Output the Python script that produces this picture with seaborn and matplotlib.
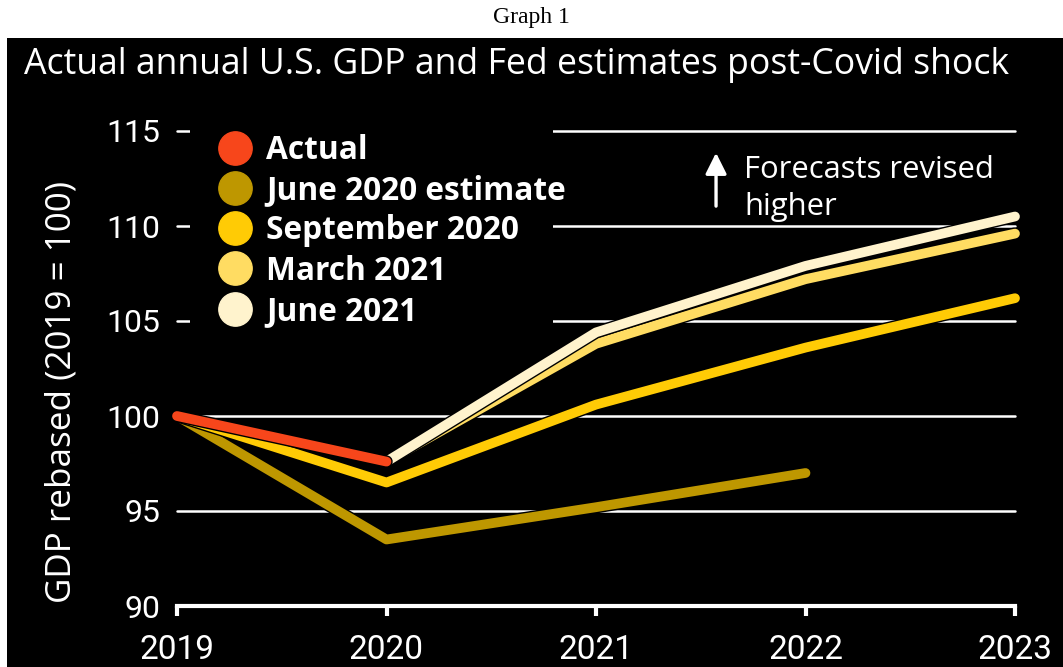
import numpy as np
import pandas as pd
import matplotlib
matplotlib.use("Agg")
import matplotlib.pyplot as plt
import matplotlib.patheffects as pe
from matplotlib.lines import Line2D
from matplotlib.patches import Rectangle
import seaborn as sns

# ---- data ----
years = [2019, 2020, 2021, 2022, 2023]
actual = [100.0, 97.6, np.nan, np.nan, np.nan]
june_2020 = [100.0, 93.5, 95.2, 97.0, np.nan]
september_2020 = [100.0, 96.5, 100.6, 103.6, 106.2]
march_2021 = [np.nan, 97.6, 103.8, 107.2, 109.6]
june_2021 = [np.nan, 97.6, 104.4, 107.9, 110.5]

series_names = ["Actual", "June 2020 estimate", "September 2020", "March 2021", "June 2021"]
series_values = [actual, june_2020, september_2020, march_2021, june_2021]
colors = ["#F7461B", "#BE9700", "#FFCB05", "#FFDC62", "#FFF3CD"]
draw_order = ["June 2020 estimate", "September 2020", "March 2021", "June 2021", "Actual"]
y_ticks = [90, 95, 100, 105, 110, 115]

rows = []
for name, vals in zip(series_names, series_values):
    for yr, v in zip(years, vals):
        if not np.isnan(v):
            rows.append({"year": yr, "value": v, "series": name})
df = pd.DataFrame(rows)
palette = dict(zip(series_names, colors))

sns.set_theme(style="dark")
plt.rcParams["font.family"] = ["Roboto", "DejaVu Sans"]
OPEN = ["Open Sans", "DejaVu Sans"]

W, H = 1063, 667
fig = plt.figure(figsize=(W / 100, H / 100), dpi=100, facecolor="white")
bg = fig.add_axes([7 / W, 0, 1 - 7 / W, (H - 38) / H], zorder=-5)
bg.set_facecolor("black")
bg.set_xticks([]); bg.set_yticks([])
for s in bg.spines.values():
    s.set_visible(False)

fig.text(0.5, 1 - 18 / H, "Graph 1", ha="center", va="center", fontsize=17,
         family=["Liberation Serif", "DejaVu Serif"], color="black")
fig.text(24 / W, 1 - 65 / H, "Actual annual U.S. GDP and Fed estimates post-Covid shock",
         ha="left", va="center", fontsize=25.7, color="white", family=OPEN)

left, right = 177 / W, 1015 / W
bottom = (H - 606) / H
top_px = 606 - 25.5 * 19
ax = fig.add_axes([left, bottom, right - left, (606 - top_px) / H], zorder=1)
ax.set_facecolor("none")

sns.lineplot(data=df, x="year", y="value", hue="series", hue_order=draw_order,
             palette=palette, linewidth=7, estimator=None, sort=False, legend=False, ax=ax)
for line in ax.lines:
    line.set_solid_capstyle("round")
    line.set_solid_joinstyle("round")
    line.set_clip_on(False)
    line.set_zorder(5)
    line.set_path_effects([pe.Stroke(linewidth=9, foreground="black"), pe.Normal()])

ax.set_xlim(2019, 2023)
ax.set_ylim(90, 115.5)
ax.set_xticks(years)
ax.set_xticklabels([str(y) for y in years])
ax.set_yticks(y_ticks)
ax.set_yticklabels([str(t) for t in y_ticks])

for s in ["top", "right", "left"]:
    ax.spines[s].set_visible(False)
ax.spines["bottom"].set_color("white")
ax.spines["bottom"].set_linewidth(3)
ax.spines["bottom"].set_capstyle("projecting")
ax.spines["bottom"].set_zorder(6)

ax.tick_params(axis="x", colors="white", labelsize=24, length=7, width=3, direction="out", pad=13,
               bottom=True)
ax.tick_params(axis="y", colors="white", labelsize=23, length=0, pad=12)

ax.grid(False)
for t in y_ticks[1:]:
    ax.axhline(t, color="white", lw=1.8, zorder=1, clip_on=False)

# black box behind the legend hiding gridlines
ax.add_patch(Rectangle((0.016, 104.4), 0.433, 11.5, transform=ax.get_yaxis_transform(),
                       facecolor="black", edgecolor="none", zorder=2, clip_on=False))

ax.set_xlabel("")
ax.set_ylabel("GDP rebased (2019 = 100)", color="white", fontsize=25.2, family=OPEN)
ax.yaxis.set_label_coords(-0.118, 0.442)

handles = [Line2D([], [], marker="o", linestyle="none", markersize=24,
                  markerfacecolor=c, markeredgecolor=c) for c in colors]
leg = ax.legend(handles, series_names, loc="upper left", bbox_to_anchor=(0.050, 0.974),
                frameon=False, handlelength=1.0, handletextpad=0.5, labelspacing=0.226,
                borderaxespad=0, borderpad=0,
                prop={"family": OPEN, "weight": "bold", "size": 22.8})
for t in leg.get_texts():
    t.set_color("white")
leg.set_zorder(7)

ax.annotate("", xy=(2021.573, 114.0), xytext=(2021.573, 110.9),
            arrowprops=dict(arrowstyle="-|>", color="white", lw=2.4, mutation_scale=32))
ax.text(2021.707, 110.6, "Forecasts revised\nhigher", color="white", fontsize=22.3,
        ha="left", va="baseline", linespacing=1.3, family=OPEN)

fig.savefig("out.png", dpi=100, facecolor="white")
